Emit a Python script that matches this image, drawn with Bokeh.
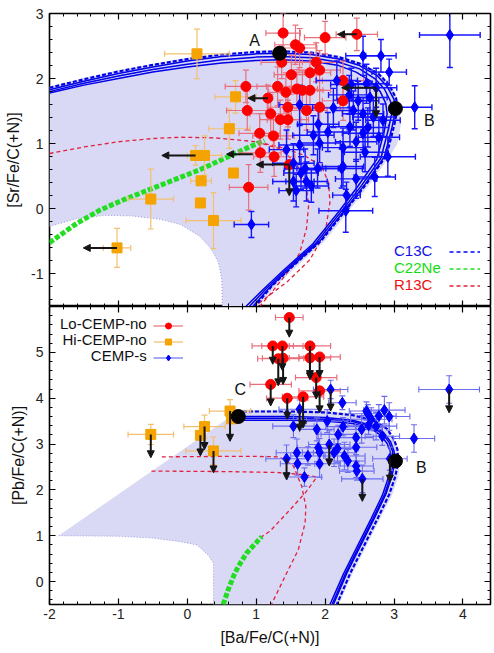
import numpy as np
import pandas as pd
from bokeh.plotting import figure
from bokeh.layouts import column
from bokeh.models import (ColumnDataSource, Range1d, LinearAxis, SingleIntervalTicker, FixedTicker,
                          PrintfTickFormatter, CustomJSTickFormatter, Arrow, NormalHead, Label,
                          Legend, LegendItem)
from bokeh.embed import file_html
from bokeh.resources import INLINE

FONT = "Liberation Sans"
X_RANGE = (-2.0, 4.4)
TOP_YRANGE = (-1.5, 3.0)
BOT_YRANGE = (-0.5, 6.0)
BOT_YTICKS = [0, 1, 2, 3, 4, 5]

# ---------------- top panel: [Sr/Fe/C(+N)] ----------------
# Lo-CEMP-no
TL_X = [1.39, 2.00, 2.46, 1.57, 1.63, 1.37, 1.87, 1.51, 1.78, 1.92, 0.85, 1.31, 1.43, 1.59, 1.67, 1.78,
        1.17, 0.87, 1.21, 1.35, 1.46, 1.46, 1.73, 1.92, 1.05, 1.25, 1.06, 1.26, 0.89, 1.48, 2.26, 2.26]
TL_Y = [2.70, 2.63, 2.68, 2.52, 2.47, 2.25, 2.25, 2.06, 2.09, 2.13, 1.88, 1.88, 1.79, 1.84, 1.82, 1.82,
        1.70, 1.51, 1.46, 1.37, 1.37, 1.56, 1.51, 1.56, 1.16, 1.12, 0.86, 0.80, 0.33, 0.68, 1.66, 1.97]
TL_XE = [0.25, 0.3, 0.3, 0.3, 0.25, 0.3, 0.3, 0.25, 0.3, 0.3, 0.3, 0.3, 0.25, 0.3, 0.3, 0.3,
         0.0, 0.3, 0.3, 0.3, 0.3, 0.3, 0.3, 0.3, 0.3, 0.3, 0.3, 0.3, 0.28, 0.0, 0.3, 0.3]
TL_YE = [0.3, 0.25, 0.25, 0.3, 0.3, 0.25, 0.3, 0.3, 0.3, 0.3, 0.25, 0.3, 0.3, 0.3, 0.3, 0.25,
         0.2, 0.3, 0.3, 0.3, 0.3, 0.3, 0.3, 0.25, 0.3, 0.3, 0.3, 0.3, 0.35, 0.0, 0.3, 0.3]
# Hi-CEMP-no
TH_X = [0.14, 0.70, 0.61, 0.12, 0.25, 0.20, 0.19, 0.67, -0.53, 0.38, -1.02]
TH_Y = [2.38, 1.72, 1.23, 0.82, 0.82, 0.43, 0.09, 0.55, 0.15, -0.18, -0.60]
TH_XE = [0.47, 0.3, 0.3, 0.0, 0.25, 0.15, 0.0, 0.0, 0.33, 0.4, 0.2]
TH_YE = [0.38, 0.25, 0.3, 0.15, 0.3, 0.0, 0.0, 0.0, 0.46, 0.43, 0.3]
# CEMP-s
TS_X = [3.81, 3.30, 2.55, 2.81, 2.93, 2.17, 2.38, 2.60, 2.65, 2.48, 2.41, 2.55, 2.70, 2.84, 2.36, 2.55,
        2.04, 2.26, 2.58, 2.91, 2.26, 1.63, 1.90, 1.92, 1.44, 1.63, 2.45, 1.54, 1.71, 1.89, 2.24, 1.54,
        1.73, 2.45, 2.72, 2.31, 2.30, 0.93, 1.83, 2.74, 2.12, 2.35, 2.62, 2.78, 1.65, 1.58, 1.80]
TS_Y = [2.67, 1.56, 2.35, 2.35, 2.10, 1.97, 1.91, 1.92, 1.71, 1.66, 1.51, 1.46, 1.41, 1.36, 1.26, 1.16,
        1.18, 0.94, 0.87, 0.80, 0.65, 1.60, 1.30, 1.01, 0.91, 0.98, 1.03, 0.70, 0.62, 0.62, 0.62, 0.42,
        0.42, 0.46, 0.49, 0.21, -0.03, -0.24, 1.13, 1.86, 1.55, 1.75, 1.25, 1.10, 0.55, 0.28, 0.35]
TS_XE = [0.44, 0.25, 0.25, 0.22, 0.25, 0.3, 0.3, 0.3, 0.25, 0.3, 0.3, 0.3, 0.3, 0.25, 0.3, 0.3,
         0.3, 0.3, 0.3, 0.4, 0.3, 0.3, 0.3, 0.3, 0.25, 0.3, 0.3, 0.3, 0.3, 0.3, 0.3, 0.3,
         0.3, 0.3, 0.3, 0.2, 0.39, 0.25, 0.3, 0.3, 0.3, 0.3, 0.3, 0.3, 0.25, 0.25, 0.25]
TS_YE = [0.5, 0.33, 0.3, 0.25, 0.2, 0.3, 0.25, 0.3, 0.25, 0.3, 0.3, 0.25, 0.3, 0.25, 0.3, 0.25,
         0.3, 0.3, 0.3, 0.3, 0.3, 0.3, 0.3, 0.3, 0.3, 0.3, 0.3, 0.3, 0.3, 0.3, 0.3, 0.3,
         0.3, 0.3, 0.3, 0.2, 0.33, 0.2, 0.3, 0.3, 0.3, 0.3, 0.3, 0.3, 0.25, 0.25, 0.25]
# upper limits (arrows): start -> end
TA_X0 = [2.46, 1.17, 0.95, 1.48, 1.48, 2.74, 2.74, 0.12, -1.02]
TA_Y0 = [2.68, 1.70, 0.84, 0.68, 0.68, 1.86, 1.86, 0.82, -0.60]
TA_X1 = [2.18, 0.88, 0.57, 1.00, 1.48, 2.24, 2.74, -0.37, -1.51]
TA_Y1 = [2.68, 1.70, 0.84, 0.68, 0.20, 1.86, 1.40, 0.82, -0.60]
# model points
TOP_MODEL_X = [1.34, 3.02]
TOP_MODEL_Y = [2.39, 1.54]
TOP_MODEL_LBL = ["A", "B"]
# C13C model tracks
C13C_TOP_X = [
    [-2.0, -1.5, -1.0, -0.5, 0.0, 0.5, 1.0, 1.35, 1.8, 2.2, 2.5, 2.75, 2.9, 3.0, 3.02, 2.97, 2.86, 2.58, 2.3, 1.92, 1.5, 1.2, 0.95],
    [-2.0, -1.5, -1.0, -0.5, 0.0, 0.5, 1.0, 1.35, 1.8, 2.2, 2.5, 2.72, 2.86, 2.95, 2.97, 2.92, 2.81, 2.53, 2.25, 1.87, 1.45, 1.15, 0.9],
    [-2.0, -1.5, -1.0, -0.5, 0.0, 0.5, 1.0, 1.35, 1.8, 2.2, 2.45, 2.66, 2.8, 2.88, 2.9, 2.86, 2.75, 2.47, 2.2, 1.82, 1.4, 1.1, 0.85],
]
C13C_TOP_Y = [
    [1.83, 1.96, 2.08, 2.18, 2.27, 2.34, 2.38, 2.39, 2.37, 2.3, 2.2, 2.05, 1.88, 1.68, 1.5, 1.25, 0.8, 0.38, 0.0, -0.5, -0.9, -1.2, -1.5],
    [1.80, 1.93, 2.04, 2.14, 2.22, 2.29, 2.33, 2.34, 2.32, 2.25, 2.15, 2.0, 1.84, 1.65, 1.48, 1.23, 0.78, 0.36, -0.02, -0.52, -0.92, -1.22, -1.5],
    [1.78, 1.9, 2.0, 2.1, 2.18, 2.24, 2.28, 2.29, 2.27, 2.2, 2.1, 1.96, 1.8, 1.62, 1.46, 1.2, 0.76, 0.34, -0.04, -0.54, -0.94, -1.24, -1.5],
]
C13C_TOP_DX = [-2.0, -1.5, -1.0, -0.5, 0.0, 0.5, 1.0, 1.35, 1.8, 2.2, 2.5, 2.77, 2.93, 3.03, 3.05, 3.0, 2.89, 2.61, 2.33, 1.95, 1.53, 1.23, 0.98]
C13C_TOP_DY = [1.86, 1.99, 2.11, 2.21, 2.3, 2.37, 2.41, 2.42, 2.4, 2.33, 2.23, 2.08, 1.9, 1.7, 1.52, 1.27, 0.82, 0.4, 0.02, -0.48, -0.88, -1.18, -1.5]
R13C_TOP_X = [
    [-2.0, -1.5, -1.0, -0.5, -0.1, 0.4, 1.0, 1.34, 1.7, 1.95, 2.05, 2.07, 2.0, 1.78, 1.45, 1.2, 0.98],
    [1.0, 1.35, 1.58, 1.72, 1.76, 1.73, 1.63, 1.45, 1.25, 1.05],
]
R13C_TOP_Y = [
    [0.85, 0.95, 1.03, 1.08, 1.1, 1.09, 1.03, 0.95, 0.82, 0.65, 0.4, 0.1, -0.37, -0.78, -1.12, -1.32, -1.5],
    [1.03, 0.92, 0.7, 0.4, 0.05, -0.3, -0.68, -0.98, -1.25, -1.5],
]
C22NE_TOP_X = [-2.0, -1.6, -1.27, -0.9, -0.54, 0.18, 0.9, 1.12]
C22NE_TOP_Y = [-0.52, -0.22, -0.02, 0.15, 0.30, 0.60, 0.95, 1.05]
# model region (shaded) and its inner empty part
REGION_TOP_X = [-2.0, -1.0, 0.0, 1.0, 1.35, 1.8, 2.2, 2.55, 2.82, 2.98, 3.08, 3.1, 3.05, 2.93, 2.65, 2.37, 1.99, 1.57, 1.27, 1.02]
REGION_TOP_Y = [1.88, 2.13, 2.32, 2.43, 2.44, 2.42, 2.35, 2.24, 2.06, 1.86, 1.6, 1.3, 1.0, 0.8, 0.38, 0.0, -0.5, -0.9, -1.2, -1.5]
HOLE_TOP_X = [-2.0, -1.6, -1.2, -0.8, -0.4, -0.1, 0.18, 0.35, 0.45, 0.5, 0.51]
HOLE_TOP_Y = [-0.27, -0.15, -0.1, -0.11, -0.16, -0.24, -0.42, -0.62, -0.82, -1.08, -1.5]

# ---------------- bottom panel: [Pb/Fe/C(+N)] ----------------
BL_X = [1.48, 1.24, 1.38, 1.78, 1.32, 1.39, 1.78, 1.92, 1.21, 1.87, 1.92, 1.45, 1.68]
BL_Y = [5.76, 5.14, 5.14, 5.14, 4.86, 4.87, 4.88, 4.90, 4.30, 4.45, 4.16, 4.00, 4.03]
BL_XE = [0.2, 0.3, 0.3, 0.3, 0.3, 0.3, 0.3, 0.3, 0.3, 0.3, 0.3, 0.3, 0.3]
BL_YE = [0.0] * 13
BL_LIM = [5.33, 4.74, 4.60, 4.45, 4.27, 4.30, 4.40, 4.45, 3.83, 3.98, 3.68, 3.54, 3.35]
BH_X = [-0.53, 0.19, 0.25, 0.38, 0.62, 0.64]
BH_Y = [3.21, 3.19, 3.38, 2.85, 3.72, 3.55]
BH_XE = [0.33, 0.0, 0.3, 0.4, 0.3, 0.0]
BH_YE = [0.22, 0.0, 0.25, 0.3, 0.25, 0.0]
BH_LIM = [2.70, 2.74, 2.88, 2.37, 3.06, None]
BS_X = [3.80, 2.08, 2.25, 1.63, 1.54, 1.88, 2.03, 2.26, 2.19, 2.45, 2.45, 2.60, 2.67, 2.63, 2.53, 2.78,
        2.86, 2.93, 2.74, 2.83, 3.29, 2.06, 2.18, 1.90, 1.92, 1.92, 1.75, 1.59, 1.60, 1.44, 1.70, 2.13,
        2.28, 2.33, 2.45, 2.46, 2.54, 2.94, 2.62]
BS_Y = [4.19, 4.19, 3.90, 3.76, 3.39, 3.32, 3.50, 3.38, 3.21, 3.14, 2.93, 3.72, 3.54, 3.41, 3.32, 3.61,
        3.74, 3.60, 3.39, 3.17, 3.12, 2.99, 2.90, 2.92, 2.82, 2.57, 2.74, 2.81, 2.57, 2.68, 2.28, 2.81,
        2.74, 2.63, 2.52, 2.41, 2.24, 2.68, 3.66]
BS_XE = [0.44, 0.25, 0.2, 0.3, 0.3, 0.25, 0.3, 0.25, 0.25, 0.25, 0.3, 0.25, 0.3, 0.3, 0.3, 0.25,
         0.3, 0.3, 0.3, 0.25, 0.3, 0.3, 0.3, 0.3, 0.25, 0.3, 0.25, 0.3, 0.25, 0.3, 0.25, 0.3,
         0.3, 0.25, 0.25, 0.25, 0.3, 0.25, 0.25]
BS_YE = [0.3, 0.2, 0.15, 0.2, 0.25, 0.25, 0.25, 0.2, 0.2, 0.25, 0.3, 0.2, 0.25, 0.2, 0.3, 0.25,
         0.3, 0.3, 0.3, 0.2, 0.3, 0.3, 0.3, 0.3, 0.3, 0.3, 0.2, 0.3, 0.25, 0.3, 0.2, 0.3,
         0.3, 0.25, 0.25, 0.2, 0.3, 0.25, 0.2]
BS_LIM = [3.68, 3.72, None, 3.28, None, None, None, None, None, None, None, None, None, None, None, None,
          None, None, None, None, None, 2.52, None, None, None, None, None, None, None, 2.22, None, None,
          None, None, None, None, 1.75, 2.17, None]
BOT_MODEL_X = [0.74, 3.02]
BOT_MODEL_Y = [3.60, 2.63]
BOT_MODEL_LBL = ["C", "B"]
C13C_BOT_X = [
    [0.7, 1.0, 1.5, 2.0, 2.4, 2.7, 2.85, 2.95, 3.0, 3.01, 2.97, 2.88, 2.72, 2.52, 2.32, 2.12],
    [0.7, 1.0, 1.5, 2.0, 2.4, 2.68, 2.83, 2.93, 2.98, 2.99, 2.95, 2.86, 2.7, 2.5, 2.3, 2.1],
    [0.75, 1.0, 1.5, 2.0, 2.4, 2.66, 2.8, 2.9, 2.95, 2.96, 2.92, 2.83, 2.67, 2.47, 2.27, 2.07],
]
C13C_BOT_Y = [
    [3.6, 3.6, 3.6, 3.58, 3.52, 3.4, 3.25, 3.05, 2.85, 2.6, 2.3, 1.9, 1.4, 0.8, 0.2, -0.5],
    [3.56, 3.56, 3.56, 3.54, 3.49, 3.37, 3.23, 3.03, 2.84, 2.59, 2.29, 1.89, 1.39, 0.79, 0.19, -0.5],
    [3.52, 3.52, 3.52, 3.5, 3.45, 3.34, 3.2, 3.01, 2.82, 2.58, 2.28, 1.88, 1.38, 0.78, 0.18, -0.5],
]
C13C_BOT_DX = [0.72, 1.0, 1.5, 2.0, 2.4, 2.72, 2.9, 3.0, 3.05, 3.06, 3.02, 2.93, 2.77, 2.57, 2.37, 2.17]
C13C_BOT_DY = [3.71, 3.71, 3.71, 3.69, 3.63, 3.5, 3.33, 3.1, 2.88, 2.62, 2.3, 1.9, 1.4, 0.8, 0.2, -0.5]
R13C_BOT_X = [
    [-0.37, 0.5, 1.0, 1.34, 1.54, 1.66, 1.72, 1.71, 1.61, 1.44, 1.22],
    [-0.52, 0.5, 1.3, 1.7, 1.88, 1.72, 1.45, 1.2, 1.08],
]
R13C_BOT_Y = [
    [2.72, 2.73, 2.73, 2.72, 2.52, 2.08, 1.64, 1.28, 0.69, 0.18, -0.5],
    [2.41, 2.40, 2.38, 2.33, 2.28, 1.95, 1.5, 1.1, 0.98],
]
C22NE_BOT_X = [0.52, 0.6, 0.68, 0.74, 0.86, 1.08]
C22NE_BOT_Y = [-0.5, -0.15, 0.15, 0.33, 0.62, 0.98]
REGION_BOT_X = [-1.87, 0.65, 0.72, 1.5, 2.0, 2.4, 2.72, 2.92, 3.04, 3.09, 3.06, 2.97, 2.8, 2.6, 2.4, 2.2]
REGION_BOT_Y = [1.0, 3.62, 3.75, 3.75, 3.73, 3.67, 3.53, 3.3, 3.0, 2.62, 2.28, 1.88, 1.38, 0.78, 0.18, -0.5]
HOLE_BOT_X = [0.38, 0.38, 0.3, 0.14, -0.1, -0.5, -1.0, -1.87]
HOLE_BOT_Y = [-0.5, 0.4, 0.58, 0.8, 0.87, 0.95, 0.99, 1.0]

# legend texts
MODEL_NAMES = ["C13C", "C22Ne", "R13C"]
SAMPLE_NAMES = ["Lo-CEMP-no", "Hi-CEMP-no", "CEMP-s"]

# ---------------- styles ----------------
RED = "#ff0000"
RED_ERR = "#e8707c"
ORANGE = "#f4a300"
ORANGE_ERR = "#f2c070"
BLUE = "#0000ff"
BLUE_ERR_TOP = "#1414ff"
BLUE_ERR_BOT = "#6c6cf0"
CURVE_BLUE = "#0000e8"
CURVE_RED = "#e0203c"
GREEN = "#22dd22"
FILL = "#d9d9f5"
HOLE_LINE = "#9a9ad8"
ARROW = "#151515"
FRAME_W = 441


def new_fig(yr, fh, top, bottom):
    p = figure(frame_width=FRAME_W, frame_height=fh, x_range=Range1d(*X_RANGE), y_range=Range1d(*yr),
               output_backend="svg", toolbar_location=None,
               min_border_left=49, min_border_right=3, min_border_top=top, min_border_bottom=bottom,
               background_fill_color="white", border_fill_color="white")
    p.grid.visible = False
    p.outline_line_color = "black"
    p.outline_line_width = 1.6
    return p


def style_axis(ax, show, ticker=None):
    ax.ticker = ticker if ticker is not None else SingleIntervalTicker(interval=1, num_minor_ticks=5)
    ax.major_tick_in = 6
    ax.major_tick_out = 0
    ax.minor_tick_in = 3
    ax.minor_tick_out = 0
    ax.major_tick_line_color = "black"
    ax.minor_tick_line_color = "black"
    ax.major_tick_line_width = 1.2
    ax.axis_line_color = None
    ax.axis_label_text_font = FONT
    ax.axis_label_text_font_size = "16px"
    ax.axis_label_text_font_style = "normal"
    ax.axis_label_text_color = "#111111"
    ax.major_label_text_font = FONT
    ax.major_label_text_color = "#222222"
    if show:
        ax.formatter = PrintfTickFormatter(format="%d")
        ax.major_label_text_font_size = "14px"
        ax.major_label_standoff = 6
    else:
        ax.formatter = CustomJSTickFormatter(code="return ''")
        ax.major_label_text_font_size = "0px"
        ax.major_label_standoff = 0


def frame_axes(p, show_bottom, yticker=None):
    style_axis(p.below[0], show_bottom)
    style_axis(p.left[0], True, yticker)
    for side in ("right", "above"):
        ax = LinearAxis()
        style_axis(ax, False, yticker if side == "right" else None)
        p.add_layout(ax, side)


def draw_region(p, ox, oy, hx, hy, hole_reversed):
    hxs = list(reversed(hx)) if hole_reversed else list(hx)
    hys = list(reversed(hy)) if hole_reversed else list(hy)
    p.patch(list(ox) + hxs, list(oy) + hys, fill_color=FILL, line_color=None)
    p.line(hx, hy, line_color=HOLE_LINE, line_width=1, line_dash="1 2")


def draw_errors(p, x, y, xe, ye, color, width):
    df = pd.DataFrame(dict(x=x, y=y, xe=xe, ye=ye))
    dx = df[df.xe > 0]
    dy = df[df.ye > 0]
    p.segment(dx.x - dx.xe, dx.y, dx.x + dx.xe, dx.y, line_color=color, line_width=width)
    p.segment(dy.x, dy.y - dy.ye, dy.x, dy.y + dy.ye, line_color=color, line_width=width)
    p.scatter(pd.concat([dx.x - dx.xe, dx.x + dx.xe]), pd.concat([dx.y, dx.y]), marker="dash",
              angle=np.pi / 2, size=6, line_color=color, line_width=width)
    p.scatter(pd.concat([dy.x, dy.x]), pd.concat([dy.y - dy.ye, dy.y + dy.ye]), marker="dash",
              size=6, line_color=color, line_width=width)


def draw_arrows(p, x0, y0, x1, y1):
    src = ColumnDataSource(dict(x0=list(x0), y0=list(y0), x1=list(x1), y1=list(y1)))
    p.add_layout(Arrow(end=NormalHead(size=7, fill_color=ARROW, line_color=ARROW),
                       x_start="x0", y_start="y0", x_end="x1", y_end="y1", source=src,
                       line_color=ARROW, line_width=2))


def down_arrows(p, x, y, lim):
    df = pd.DataFrame(dict(x=x, y=y, lim=pd.Series(lim, dtype=float)))
    df = df.dropna()
    draw_arrows(p, df.x, df.y, df.x, df.lim)


def model_points(p, xs, ys, labels, offsets):
    p.scatter(xs, ys, marker="circle", size=14, fill_color="black", line_color="black")
    for x, y, t, (dx, dy) in zip(xs, ys, labels, offsets):
        p.add_layout(Label(x=x, y=y, x_offset=dx, y_offset=dy, text=t, text_font=FONT,
                           text_font_size="16px", text_color="#111111", text_align="center",
                           text_baseline="middle"))


def sample_legend(items, loc, glyph_w, glyph_h, spacing):
    # glyph-only legend (its names are drawn as separate labels to their left)
    return Legend(items=items, location=loc, orientation="vertical", glyph_width=glyph_w,
                  glyph_height=glyph_h, label_height=glyph_h, label_width=0, spacing=spacing,
                  padding=0, margin=0, border_line_color=None, background_fill_alpha=0,
                  label_standoff=0, label_text_font_size="1px")


NAN = [np.nan]

# ================= TOP =================
top = new_fig(TOP_YRANGE, 293, 13, 0)
frame_axes(top, False)
top.left[0].axis_label = "[Sr/Fe/C(+N)]"
top.left[0].axis_label_standoff = 6

draw_region(top, REGION_TOP_X, REGION_TOP_Y, HOLE_TOP_X, HOLE_TOP_Y, True)
for xs, ys in zip(R13C_TOP_X, R13C_TOP_Y):
    top.line(xs, ys, line_color=CURVE_RED, line_width=1.3, line_dash="4 3")
for xs, ys in zip(C13C_TOP_X, C13C_TOP_Y):
    top.line(xs, ys, line_color=CURVE_BLUE, line_width=1.5)
top.line(C13C_TOP_DX, C13C_TOP_DY, line_color=CURVE_BLUE, line_width=2.2, line_dash="4 2")
top.line(C22NE_TOP_X, C22NE_TOP_Y, line_color=GREEN, line_width=5, line_dash="5 2")

draw_errors(top, TH_X, TH_Y, TH_XE, TH_YE, ORANGE_ERR, 1.2)
draw_errors(top, TL_X, TL_Y, TL_XE, TL_YE, RED_ERR, 1.2)
draw_errors(top, TS_X, TS_Y, TS_XE, TS_YE, BLUE_ERR_TOP, 1.4)
top.scatter(TH_X, TH_Y, marker="square", size=10, fill_color=ORANGE, line_color=ORANGE)
top.scatter(TL_X, TL_Y, marker="circle", size=10, fill_color=RED, line_color=RED)
top.scatter(TS_X, TS_Y, marker="diamond", size=11, fill_color=BLUE, line_color=BLUE)
draw_arrows(top, TA_X0, TA_Y0, TA_X1, TA_Y1)
model_points(top, TOP_MODEL_X, TOP_MODEL_Y, TOP_MODEL_LBL, [(-25, 13), (34, -12)])

# legend of model families: names on the left, dashed samples on the right
model_styles = [(BLUE, "#1111ee"), (GREEN, "#11dd11"), (CURVE_RED, "#ee1111")]
m_items = []
for k, (name, (lc, tc)) in enumerate(zip(MODEL_NAMES, model_styles)):
    r = top.line(NAN, NAN, line_color=lc, line_width=1.5, line_dash="4 3")
    m_items.append(LegendItem(label="", renderers=[r]))
    top.add_layout(Label(x=3.0, y=-0.64 - 0.26 * k, text=name, text_color=tc, text_font=FONT,
                         text_font_size="15px", text_align="left", text_baseline="middle"))
top.add_layout(sample_legend(m_items, (400, 12), 31, 17, 0))

# ================= BOTTOM =================
minor_b = list(np.round(np.arange(-0.4, 6.0, 0.2), 2))
bot = new_fig(BOT_YRANGE, 298, 0, 46)
frame_axes(bot, True, FixedTicker(ticks=BOT_YTICKS, minor_ticks=minor_b))
bot.left[0].axis_label = "[Pb/Fe/C(+N)]"
bot.left[0].axis_label_standoff = 6
bot.below[0].axis_label = "[Ba/Fe/C(+N)]"
bot.below[0].axis_label_standoff = 7
bot.below[0].major_label_standoff = 4

draw_region(bot, REGION_BOT_X, REGION_BOT_Y, HOLE_BOT_X, HOLE_BOT_Y, False)
for xs, ys in zip(R13C_BOT_X, R13C_BOT_Y):
    bot.line(xs, ys, line_color=CURVE_RED, line_width=1.3, line_dash="4 3")
for xs, ys in zip(C13C_BOT_X, C13C_BOT_Y):
    bot.line(xs, ys, line_color=CURVE_BLUE, line_width=1.5)
bot.line(C13C_BOT_DX, C13C_BOT_DY, line_color=CURVE_BLUE, line_width=2.2, line_dash="4 2")
bot.line(C22NE_BOT_X, C22NE_BOT_Y, line_color=GREEN, line_width=5, line_dash="5 2")

draw_errors(bot, BH_X, BH_Y, BH_XE, BH_YE, ORANGE_ERR, 1.2)
draw_errors(bot, BL_X, BL_Y, BL_XE, BL_YE, RED_ERR, 1.2)
draw_errors(bot, BS_X, BS_Y, BS_XE, BS_YE, BLUE_ERR_BOT, 1.1)
bot.scatter(BH_X, BH_Y, marker="square", size=10, fill_color=ORANGE, line_color=ORANGE)
bot.scatter(BL_X, BL_Y, marker="circle", size=10, fill_color=RED, line_color=RED)
bot.scatter(BS_X, BS_Y, marker="diamond", size=11, fill_color=BLUE, line_color=BLUE)
down_arrows(bot, BH_X, BH_Y, BH_LIM)
down_arrows(bot, BL_X, BL_Y, BL_LIM)
down_arrows(bot, BS_X, BS_Y, BS_LIM)
model_points(bot, BOT_MODEL_X, BOT_MODEL_Y, BOT_MODEL_LBL, [(2, 27), (26, -6)])

# legend of observed samples: names on the left, marker with error bar on the right
sample_styles = [(RED_ERR, "circle", 10, RED), (ORANGE_ERR, "square", 10, ORANGE),
                 (BLUE_ERR_BOT, "diamond", 11, BLUE)]
s_items = []
for k, (name, (ec, mk, sz, mc)) in enumerate(zip(SAMPLE_NAMES, sample_styles)):
    r_err = bot.line(NAN, NAN, line_color=ec, line_width=1.2)
    r_mk = bot.scatter(NAN, NAN, marker=mk, size=sz, fill_color=mc, line_color=mc)
    s_items.append(LegendItem(label="", renderers=[r_err, r_mk]))
    bot.add_layout(Label(x=-0.59, y=5.62 - 0.34 * k, text=name, text_color="#111111", text_font=FONT,
                         text_font_size="15px", text_align="right", text_baseline="middle"))
bot.add_layout(sample_legend(s_items, (104, 239), 30, 15, 1))

layout = column(top, bot, spacing=0)
open("out.html", "w").write(file_html(layout, INLINE))
